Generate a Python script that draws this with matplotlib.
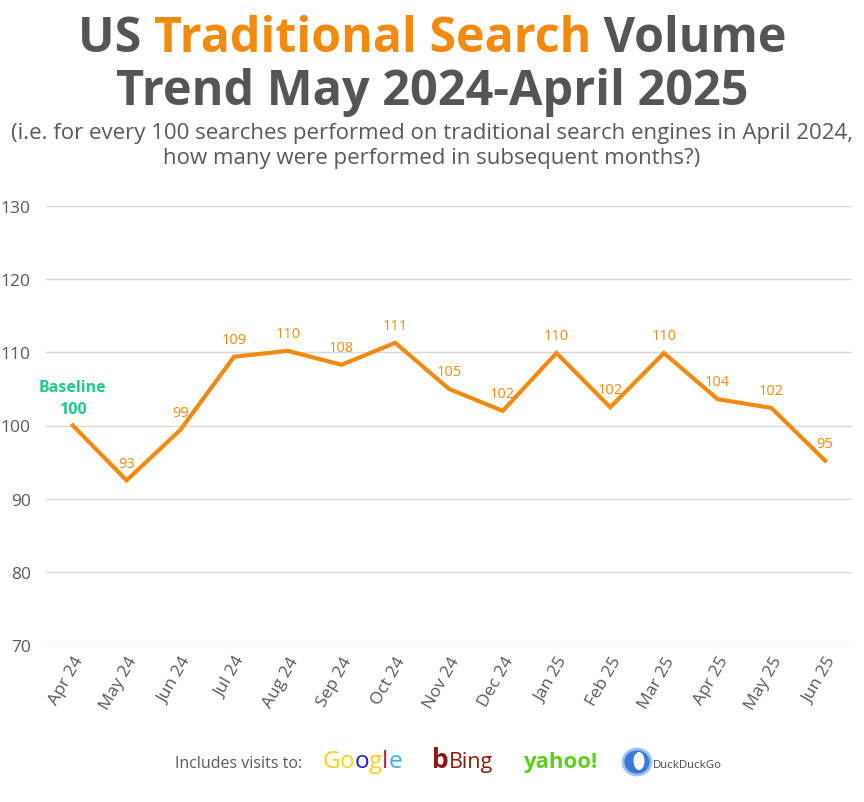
import matplotlib
matplotlib.use("Agg")
import matplotlib.pyplot as plt
from matplotlib.patches import Circle, Ellipse

months = ["Apr 24", "May 24", "Jun 24", "Jul 24", "Aug 24", "Sep 24", "Oct 24",
          "Nov 24", "Dec 24", "Jan 25", "Feb 25", "Mar 25", "Apr 25", "May 25", "Jun 25"]
values = [100.0, 92.5, 99.4, 109.4, 110.2, 108.3, 111.3,
          105.0, 102.0, 109.9, 102.5, 109.9, 103.6, 102.4, 95.2]
labels = ["100", "93", "99", "109", "110", "108", "111",
          "105", "102", "110", "102", "110", "104", "102", "95"]
yticks = [70, 80, 90, 100, 110, 120, 130]

ORANGE = "#F28A10"
GRAY = "#555555"
TICK = "#595959"
GREEN = "#1DCC8C"
FONT = "Open Sans"

plt.rcParams['font.family'] = [FONT, 'DejaVu Sans']

fig = plt.figure(figsize=(8.64, 8.03), dpi=100)
W, H = 864, 803
ax = fig.add_axes([46 / W, 1 - 646 / H, (852 - 46) / W, (646 - 207) / H])

x = list(range(len(months)))
ax.plot(x, values, color=ORANGE, lw=3, solid_joinstyle='miter', zorder=3)
for i, (v, lab) in enumerate(zip(values, labels)):
    if i == 0:
        ax.annotate(lab, (i, v), xytext=(0, 12), textcoords='offset points',
                    ha='center', va='center', color=GREEN, fontsize=11.5, fontweight='bold')
        ax.annotate("Baseline", (i, v), xytext=(0, 28), textcoords='offset points',
                    ha='center', va='center', color=GREEN, fontsize=11.5, fontweight='bold')
    else:
        ax.annotate(lab, (i, v), xytext=(0, 12.5), textcoords='offset points',
                    ha='center', va='center', color=ORANGE, fontsize=10.5)

ax.set_xlim(-0.5, len(months) - 0.5)
ax.set_ylim(70, 130)
ax.set_yticks(yticks)
ax.set_yticklabels([str(t) for t in yticks], color=TICK, fontsize=12.5)
ax.set_xticks(x)
ax.set_xticklabels(months, rotation=60, ha='right', rotation_mode='anchor',
                   color=TICK, fontsize=12.5)
ax.grid(axis='y', color='#D9D9D9', lw=1)
ax.set_axisbelow(True)
for s in ax.spines.values():
    s.set_visible(False)
ax.tick_params(length=0)
ax.tick_params(axis='y', pad=11)
ax.tick_params(axis='x', pad=6)

# Title
fig.canvas.draw()
r = fig.canvas.get_renderer()

def multicolor(parts, y, size, weight='bold'):
    texts = []
    widths = []
    for s, c in parts:
        t = fig.text(0, y, s, color=c, fontsize=size, fontweight=weight, va='baseline', ha='left')
        texts.append(t)
        widths.append(t.get_window_extent(r).width)
    total = sum(widths)
    x0 = (W - total) / 2
    for t, w in zip(texts, widths):
        t.set_x(x0 / W)
        x0 += w

multicolor([("US ", GRAY), ("Traditional Search", ORANGE), (" Volume", GRAY)], 1 - 52 / H, 34.8)
fig.text(0.5, 1 - 105 / H, "Trend May 2024-April 2025", color=GRAY, fontsize=35,
         fontweight='bold', ha='center', va='baseline')
fig.text(0.5, 1 - 139 / H, "(i.e. for every 100 searches performed on traditional search engines in April 2024,",
         color=TICK, fontsize=16, ha='center', va='baseline')
fig.text(0.5, 1 - 164 / H, "how many were performed in subsequent months?)",
         color=TICK, fontsize=16, ha='center', va='baseline')

# Footer
yb = 1 - 768 / H
fig.text(175 / W, yb, "Includes visits to:", color=TICK, fontsize=11.5, va='baseline', ha='left')
g_cols = ["#F7D21E", "#F7D21E", "#1C1CE0", "#F7D21E", "#C2185B", "#2BB4F0"]
xg = 322
for ch, c in zip("Google", g_cols):
    t = fig.text(xg / W, yb, ch, color=c, fontsize=17.5, va='baseline', ha='left')
    xg += t.get_window_extent(r).width
fig.text(432 / W, yb, "b", color="#8B1A10", fontsize=19, fontweight='bold', va='baseline', ha='left')
fig.text(449 / W, yb, "Bing", color="#8B1A10", fontsize=15.5, va='baseline', ha='left')
fig.text(523 / W, yb, "yahoo!", color="#5DD01A", fontsize=16, fontweight='bold',
         va='baseline', ha='left')
fig.patches.append(Circle((637 / W, 1 - 763 / H), 14 / W, transform=fig.transFigure,
                          facecolor="#3B78D8", edgecolor="#9CC3F0", lw=2))
fig.patches.append(Ellipse((639 / W, 1 - 762 / H), 11 / W, 18 / H, transform=fig.transFigure,
                           facecolor="white", edgecolor="none"))
fig.text(653 / W, yb, "DuckDuckGo", color="#444444", fontsize=8.2, va='baseline', ha='left')

fig.savefig("out.png", dpi=100, facecolor='white')
